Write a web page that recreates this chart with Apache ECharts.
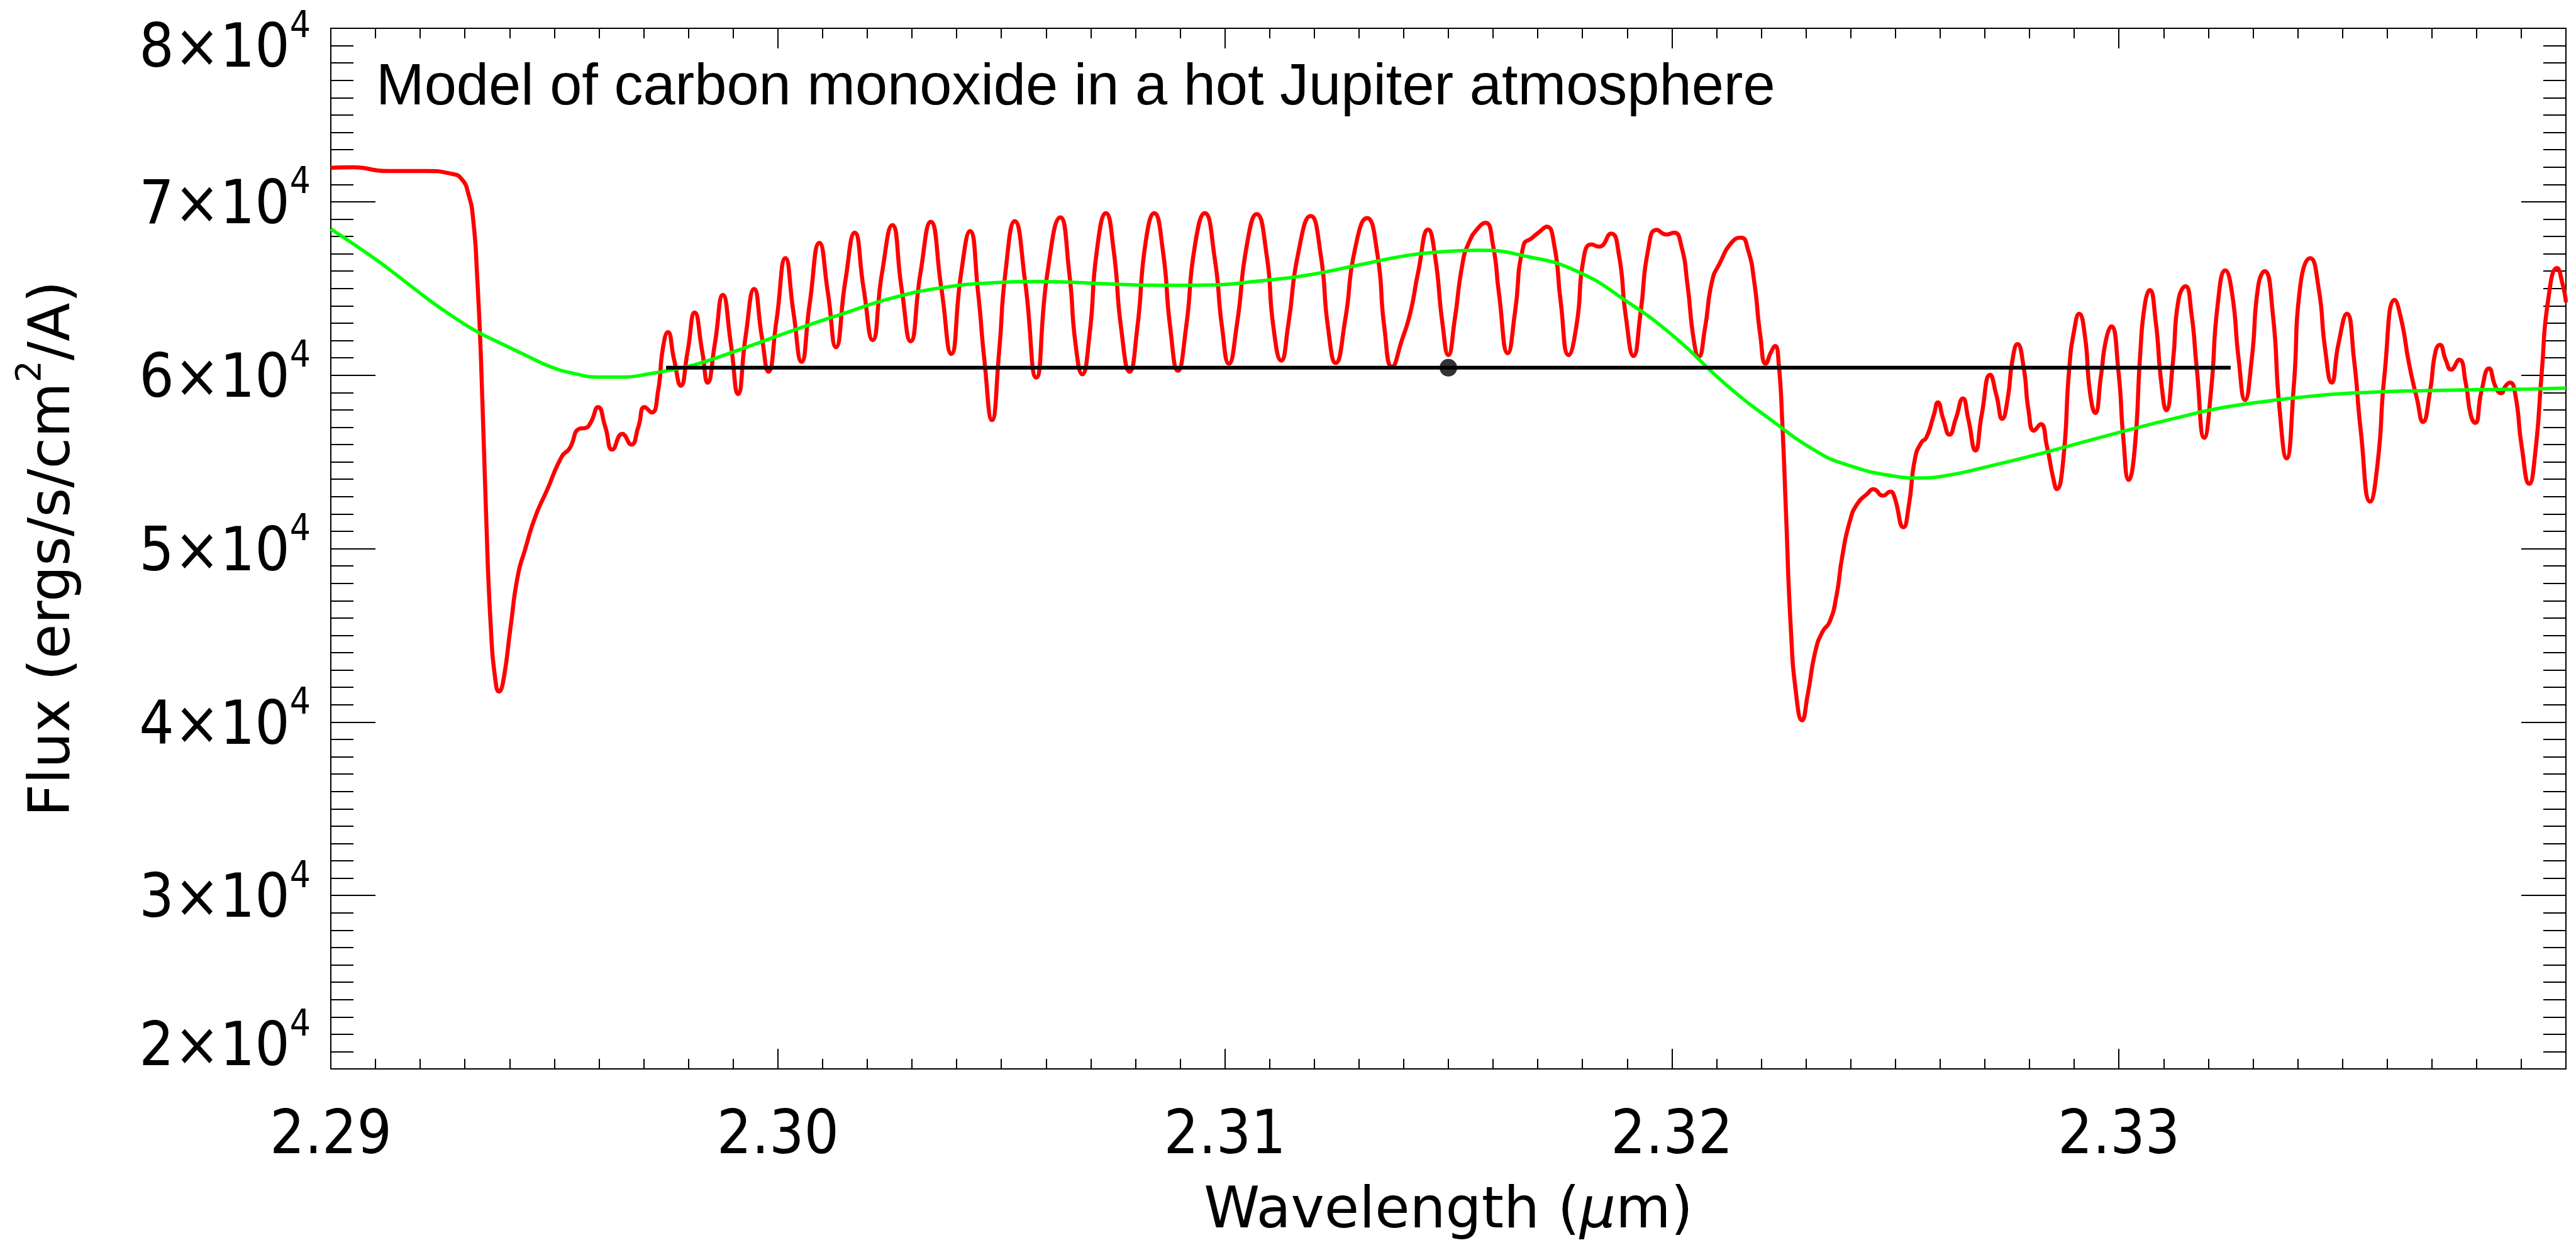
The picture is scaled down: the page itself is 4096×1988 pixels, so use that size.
<html>

<head>
    <meta http-equiv="Content-Type" content="text/html; charset=utf-8" />
    <title>Model of carbon monoxide in a hot Jupiter atmosphere</title>
    <script src="https://cdn.jsdelivr.net/npm/echarts@6.0.0/dist/echarts.min.js"></script>
    <style>
        html, body { margin: 0; padding: 0; width: 100%; height: 100%; background: #fff; }
    </style>
</head>

<body>
    <div id="main" style="width:100%;height:100%"></div>

    <script type="text/javascript">
        // model spectrum (red), wavelength in micron
        var redWl = [
            2.29000, 2.29049, 2.29126, 2.29214, 2.29270, 2.29292, 2.29308, 2.29319, 2.29327, 2.29336,
            2.29347, 2.29358, 2.29369, 2.29376, 2.29385, 2.29402, 2.29418, 2.29435, 2.29457, 2.29484,
            2.29517, 2.29534, 2.29556, 2.29570, 2.29581, 2.29598, 2.29614, 2.29630, 2.29652, 2.29672,
            2.29688, 2.29702, 2.29718, 2.29732, 2.29743, 2.29754, 2.29768, 2.29783, 2.29798, 2.29814,
            2.29831, 2.29843, 2.29859, 2.29877, 2.29895, 2.29911, 2.29928, 2.29947, 2.29964, 2.29979,
            2.29997, 2.30017, 2.30035, 2.30053, 2.30071, 2.30093, 2.30112, 2.30130, 2.30151, 2.30172,
            2.30192, 2.30212, 2.30233, 2.30256, 2.30277, 2.30297, 2.30319, 2.30342, 2.30366, 2.30388,
            2.30410, 2.30430, 2.30448, 2.30462, 2.30479, 2.30495, 2.30509, 2.30530, 2.30553, 2.30578,
            2.30603, 2.30632, 2.30652, 2.30666, 2.30681, 2.30697, 2.30714, 2.30734, 2.30751, 2.30768,
            2.30787, 2.30804, 2.30823, 2.30842, 2.30861, 2.30878, 2.30895, 2.30913, 2.30933, 2.30955,
            2.30977, 2.30994, 2.31009, 2.31027, 2.31049, 2.31071, 2.31093, 2.31109, 2.31126, 2.31142,
            2.31164, 2.31192, 2.31214, 2.31231, 2.31248, 2.31269, 2.31291, 2.31318, 2.31341, 2.31357,
            2.31374, 2.31396, 2.31415, 2.31432, 2.31455, 2.31470, 2.31487, 2.31500, 2.31514, 2.31531,
            2.31545, 2.31567, 2.31583, 2.31600, 2.31613, 2.31633, 2.31649, 2.31668, 2.31688, 2.31704,
            2.31720, 2.31737, 2.31751, 2.31769, 2.31787, 2.31803, 2.31820, 2.31837, 2.31864, 2.31881,
            2.31897, 2.31914, 2.31930, 2.31947, 2.31966, 2.31988, 2.32005, 2.32021, 2.32035, 2.32049,
            2.32060, 2.32074, 2.32090, 2.32107, 2.32134, 2.32155, 2.32170, 2.32184, 2.32198, 2.32210,
            2.32222, 2.32231, 2.32239, 2.32247, 2.32255, 2.32266, 2.32278, 2.32291, 2.32304, 2.32321,
            2.32337, 2.32353, 2.32368, 2.32381, 2.32398, 2.32415, 2.32437, 2.32451, 2.32472, 2.32489,
            2.32497, 2.32518, 2.32530, 2.32544, 2.32558, 2.32569, 2.32586, 2.32595, 2.32607, 2.32621,
            2.32635, 2.32651, 2.32663, 2.32679, 2.32693, 2.32712, 2.32726, 2.32739, 2.32751, 2.32762,
            2.32773, 2.32787, 2.32798, 2.32810, 2.32825, 2.32839, 2.32853, 2.32861, 2.32875, 2.32889,
            2.32900, 2.32911, 2.32924, 2.32935, 2.32947, 2.32960, 2.32971, 2.32983, 2.32999, 2.33010,
            2.33022, 2.33035, 2.33048, 2.33058, 2.33069, 2.33082, 2.33095, 2.33106, 2.33121, 2.33133,
            2.33149, 2.33162, 2.33174, 2.33191, 2.33206, 2.33221, 2.33238, 2.33253, 2.33268, 2.33282,
            2.33297, 2.33312, 2.33326, 2.33344, 2.33359, 2.33375, 2.33391, 2.33406, 2.33428, 2.33447,
            2.33461, 2.33476, 2.33491, 2.33510, 2.33526, 2.33541, 2.33562, 2.33579, 2.33594, 2.33617,
            2.33632, 2.33649, 2.33667, 2.33680, 2.33696, 2.33708, 2.33718, 2.33731, 2.33743, 2.33761,
            2.33776, 2.33787, 2.33797, 2.33811, 2.33828, 2.33843, 2.33855, 2.33866, 2.33875, 2.33887,
            2.33901, 2.33918, 2.33931, 2.33946, 2.33960, 2.33980, 2.33993, 2.34000
        ];
        var redFlux = [
            71950, 71990, 71770, 71770, 71610, 71330, 70430, 68840, 65880, 60890,
            52250, 45440, 42260, 41760, 42260, 45440, 48390, 49980, 51800, 53390,
            55320, 55770, 56910, 56960, 57250, 58160, 57020, 55710, 56620, 56000,
            57020, 58160, 57850, 59070, 61570, 62480, 60890, 59390, 61340, 63610,
            61340, 59570, 61790, 64630, 61790, 58910, 62250, 64970, 62250, 60200,
            63160, 66750, 63610, 60770, 64070, 67630, 64750, 61610, 65430, 68220,
            64970, 62020, 65880, 68650, 64970, 61950, 65880, 68840, 64970, 61230,
            65880, 68310, 64750, 60890, 57410, 61340, 65880, 68880, 65430, 59860,
            65880, 69100, 65880, 61790, 60050, 62250, 67250, 69340, 67250, 62700,
            60200, 62700, 67700, 69340, 67250, 62700, 60250, 62700, 67470, 69340,
            66790, 62700, 60660, 62930, 67470, 69290, 67020, 62700, 60840, 62930,
            67020, 69180, 67020, 62700, 60700, 63160, 67250, 69060, 67020, 62700,
            60480, 62020, 63610, 65880, 68400, 66900, 62930, 61160, 63160, 66340,
            67590, 68500, 68790, 67470, 64750, 61270, 63610, 67470, 67930, 68270,
            68560, 67470, 64290, 61160, 62930, 66790, 67540, 67410, 68160, 67020,
            63380, 61110, 63610, 67250, 68380, 68110, 68220, 67470, 65200, 62020,
            61070, 62700, 65430, 66450, 67660, 67930, 67250, 65430, 62250, 60660,
            61340, 61680, 60660, 57250, 52250, 45440, 41600, 40100, 41600, 44080,
            45210, 45780, 47260, 49530, 51570, 52590, 53160, 53430, 53050, 53280,
            53050, 51230, 52480, 55210, 56120, 56390, 57710, 58430, 57480, 56570,
            57480, 58660, 57480, 55660, 57710, 60020, 58840, 57480, 58610, 60890,
            61790, 60430, 57930, 56800, 57180, 55890, 54070, 53430, 54980, 60430,
            62590, 63540, 62250, 59070, 57820, 59980, 62020, 62820, 60200, 56340,
            53960, 55660, 61340, 64070, 64910, 63160, 59520, 57980, 60800, 64300,
            65130, 63610, 60430, 56390, 59070, 64070, 66040, 64750, 60890, 58570,
            60890, 65200, 66000, 63610, 58160, 55210, 59300, 65200, 66750, 64970,
            61570, 59570, 61790, 63540, 60890, 56800, 52710, 54980, 59980, 64340,
            63160, 60660, 58610, 57300, 59070, 61340, 61750, 60890, 60320, 60890,
            59520, 57710, 57250, 59070, 60390, 59300, 58960, 59410, 59570, 58840,
            55890, 53730, 55430, 60200, 64290, 66180, 65200, 64200
        ];

        // smoothed spectrum (green)
        var greenWl = [
            2.29000, 2.29049, 2.29104, 2.29159, 2.29214, 2.29270, 2.29325, 2.29380, 2.29435, 2.29490,
            2.29545, 2.29600, 2.29655, 2.29710, 2.29765, 2.29821, 2.29925, 2.30035, 2.30145, 2.30256,
            2.30366, 2.30476, 2.30586, 2.30746, 2.30856, 2.30966, 2.31076, 2.31186, 2.31297, 2.31407,
            2.31480, 2.31566, 2.31677, 2.31787, 2.31897, 2.32007, 2.32118, 2.32228, 2.32320, 2.32387,
            2.32497, 2.32552, 2.32607, 2.32718, 2.32828, 2.32938, 2.33048, 2.33141, 2.33215, 2.33332,
            2.33450, 2.33567, 2.33685, 2.33802, 2.33919, 2.34000
        ];
        var greenFlux = [
            68430, 67590, 66610, 65540, 64450, 63430, 62540, 61840, 61160, 60500,
            60090, 59890, 59890, 60070, 60320, 60650, 61570, 62590, 63540, 64450,
            65040, 65320, 65400, 65250, 65180, 65200, 65430, 65770, 66340, 66900,
            67100, 67200, 66840, 66000, 64290, 62180, 59520, 57300, 55660, 54870,
            54180, 54070, 54180, 54800, 55500, 56270, 57020, 57610, 58050, 58500,
            58840, 59020, 59110, 59160, 59200, 59250
        ];

        // continuum level (black line) and its centre point
        var levelWl = [2.2975, 2.3325];
        var levelFlux = [60430, 60430];
        var centreWl = 2.315;
        var centreFlux = 60430;

        // axes
        var xTickLabels = ['2.29', '2.30', '2.31', '2.32', '2.33'];
        var yTickLabels = ['2', '3', '4', '5', '6', '7', '8'];
        var xMin = 2.29, xMax = 2.34, xStep = 0.01;
        var yMin = 20000, yMax = 80000, yStep = 10000;

        function pairs(xs, ys) {
            return xs.map(function (x, i) { return [x, ys[i]]; });
        }

        var numFont = '"DejaVu Sans Condensed", "Liberation Sans", sans-serif';
        var nameFont = '"DejaVu Sans", sans-serif';

        var tickStyle = { color: '#000', width: 2 };

        function xFormatter(v) {
            var i = Math.round((v - xMin) / xStep);
            return xTickLabels[i] || '';
        }

        function yFormatter(v) {
            var i = Math.round((v - yMin) / yStep);
            var m = yTickLabels[i];
            if (m === undefined) return '';
            var sfx = v >= yMax ? 'T' : (v <= yMin ? 'B' : '');
            return '{a' + sfx + '|' + m + '×10}{s' + sfx + '|4}';
        }

        var yRich = {
            a: { fontSize: 97, fontFamily: numFont, color: '#000', padding: [18, 0, 0, 0] },
            s: { fontSize: 58, fontFamily: numFont, color: '#000', verticalAlign: 'top' },
            aT: { fontSize: 97, fontFamily: numFont, color: '#000', padding: [72, 0, 0, 0] },
            sT: { fontSize: 58, fontFamily: numFont, color: '#000', verticalAlign: 'top', padding: [54, 0, 0, 0] },
            aB: { fontSize: 97, fontFamily: numFont, color: '#000', padding: [18, 0, 80, 0] },
            sB: { fontSize: 58, fontFamily: numFont, color: '#000', verticalAlign: 'top' }
        };

        function xAxisBase(pos) {
            return {
                type: 'value',
                position: pos,
                min: xMin,
                max: xMax,
                interval: xStep,
                axisLine: { show: true, onZero: false, lineStyle: { color: '#000', width: 2 } },
                axisTick: { show: true, inside: true, length: 32, lineStyle: tickStyle },
                minorTick: { show: true, splitNumber: 10, length: 16, lineStyle: tickStyle },
                splitLine: { show: false },
                minorSplitLine: { show: false },
                axisLabel: { show: false }
            };
        }

        function yAxisBase(pos) {
            return {
                type: 'value',
                position: pos,
                min: yMin,
                max: yMax,
                interval: yStep,
                axisLine: { show: true, onZero: false, lineStyle: { color: '#000', width: 2 } },
                axisTick: { show: true, inside: true, length: 71, lineStyle: tickStyle },
                minorTick: { show: true, splitNumber: 10, length: 36, lineStyle: tickStyle },
                splitLine: { show: false },
                minorSplitLine: { show: false },
                axisLabel: { show: false }
            };
        }

        var xBottom = xAxisBase('bottom');
        xBottom.axisLabel = {
            show: true,
            margin: 60,
            fontSize: 97,
            fontFamily: numFont,
            color: '#000',
            formatter: xFormatter
        };
        xBottom.name = 'Wavelength ({m|μ}m)';
        xBottom.nameLocation = 'middle';
        xBottom.nameGap = 184;
        xBottom.nameTextStyle = {
            fontSize: 90,
            fontFamily: nameFont,
            color: '#000',
            rich: { m: { fontSize: 90, fontFamily: nameFont, fontStyle: 'italic', color: '#000' } }
        };

        var xTop = xAxisBase('top');

        var yLeft = yAxisBase('left');
        yLeft.axisLabel = {
            show: true,
            margin: 32,
            color: '#000',
            formatter: yFormatter,
            rich: yRich
        };
        yLeft.name = '{n|Flux (ergs/s/cm}{s|2}{n|/A)}';
        yLeft.nameLocation = 'middle';
        yLeft.nameGap = 394;
        yLeft.nameTextStyle = {
            color: '#000',
            rich: {
                n: { fontSize: 90, fontFamily: nameFont, color: '#000', padding: [20, 0, 0, 0] },
                s: { fontSize: 55, fontFamily: nameFont, color: '#000', verticalAlign: 'top' }
            }
        };

        var yRight = yAxisBase('right');

        var option = {
            backgroundColor: '#fff',
            animation: false,
            title: {
                text: 'Model of carbon monoxide in a hot Jupiter atmosphere',
                left: 598,
                top: 95,
                padding: 0,
                textStyle: {
                    fontFamily: '"Liberation Sans", Arial, sans-serif',
                    fontSize: 92,
                    fontWeight: 'normal',
                    color: '#000'
                }
            },
            grid: {
                left: 526,
                right: 16,
                top: 45,
                bottom: 288,
                containLabel: false,
                outerBoundsMode: 'none'
            },
            xAxis: [xBottom, xTop],
            yAxis: [yLeft, yRight],
            series: [
                {
                    name: 'model',
                    type: 'line',
                    data: pairs(redWl, redFlux),
                    smooth: 0.55,
                    showSymbol: false,
                    lineStyle: { color: '#ff0000', width: 6.5 },
                    z: 2
                },
                {
                    name: 'smoothed',
                    type: 'line',
                    data: pairs(greenWl, greenFlux),
                    smooth: 0.5,
                    showSymbol: false,
                    lineStyle: { color: '#00ff00', width: 5.5 },
                    z: 3
                },
                {
                    name: 'level',
                    type: 'line',
                    data: pairs(levelWl, levelFlux),
                    showSymbol: false,
                    lineStyle: { color: '#000', width: 6 },
                    z: 4
                },
                {
                    name: 'centre',
                    type: 'scatter',
                    data: [[centreWl, centreFlux]],
                    symbol: 'circle',
                    symbolSize: 28,
                    itemStyle: { color: '#000' },
                    z: 5
                }
            ]
        };

        var myChart = echarts.init(document.getElementById('main'));
        myChart.setOption(option);
    </script>
</body>

</html>
